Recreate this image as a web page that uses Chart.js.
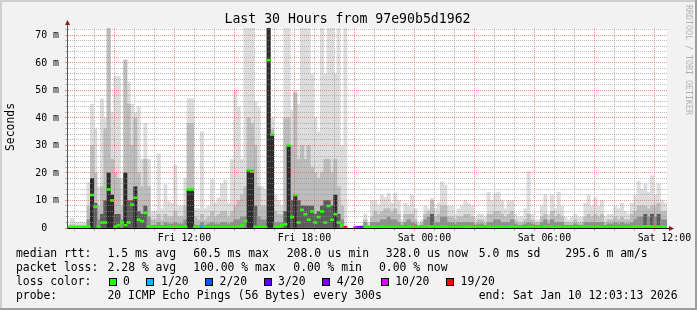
<!DOCTYPE html>
<html>
<head>
<meta charset="utf-8">
<script src="https://cdn.jsdelivr.net/npm/chart.js@4.4.1/dist/chart.umd.min.js"></script>
<style>
  html, body { margin: 0; padding: 0; background: #f2f2f2; }
  canvas { display: block; }
</style>
</head>
<body>
<canvas id="graph" width="697" height="310"></canvas>
<script>
// time axis: 10 minute bins, hours counted from Fri 00:00
const startHour = 6.13;   // Fri 06:08
const binMinutes = 10;

// smoke: top of the light (max), medium and dark layers, in ms
const hiPing = [
  1.5, 3.5, 2.2, 2.0, 2.2, 2.0, 16.5, 45, 36, 15,
  47, 40, 73, 42, 55, 55, 18, 61, 53, 45,
  42, 44, 25, 38, 25, 6, 6, 27, 7, 15.7,
  9.7, 9, 22.8, 8, 8, 18, 47, 47, 7, 7,
  35, 7, 8, 17.6, 9, 11, 16, 17.5, 9, 25,
  50, 44, 25, 73, 73, 73, 46, 44, 15, 14,
  73, 40, 12, 10, 8, 73, 73, 43, 50, 45,
  73, 73, 73, 56, 40, 35, 73, 56, 73, 73,
  56, 73, 30, 73, null, null, null, null, null, 5,
  2, 10, 10, 8.4, 12, 11, 12.6, 9, 12.6, 10,
  3, 9, 8, 12, 7, 2, 3, 8, 7, 10.8,
  7, 9, 16.8, 15.6, 8, 8, 5, 7, 8, 10,
  9, 8, 4, 5, 5, 4, 13, 10, 12.6, 13,
  10, 7, 10, 10, 5, 4, 4, 7, 20.5, 5,
  3, 3, 8, 12, 5, 12, 7, 13, 8, 4,
  3, 4, 5, 4, 4, 9, 12, 8, 11, 8,
  10, 4, 5, 5, 8, 7, 9, 6, 5, 9,
  12, 17, 14, 16, 13, 19, 12, 16, 10, 9
];
const midPing = [
  0.8, 1.2, 1, 1, 1, 1, 8, 30, 20, 8,
  15, 36, 73, 25, 20, 18, 8, 61, 45, 30,
  40, 20, 15, 25, 15, 3, 3, 5, 3, 5,
  4, 4, 6, 4, 4, 8, 38, 38, 4, 3,
  5, 3, 4, 6, 4, 5, 6, 6, 4, 6,
  8, 10, 12, 15, 40, 38, 30, 15, 8, 8,
  73, 36, 6, 5, 5, 40, 40, 30, 49, 25,
  30, 25, 30, 22, 20, 18, 20, 25, 25, 20,
  25, 15, 8, null, null, null, null, null, null, 3,
  1, 4, 6, 5, 6, 7, 7, 6, 7, 5,
  2, 5, 5, 5, 3, 1, 2, 5, 6, 10,
  4, 5, 8, 8, 4, 4, 3, 4, 4, 5,
  5, 4, 2, 3, 3, 2, 5, 5, 6, 6,
  5, 4, 5, 6, 3, 2, 2, 3, 5, 3,
  2, 2, 4, 5, 3, 6, 4, 5, 4, 2,
  2, 2, 3, 2, 2, 4, 5, 4, 5, 4,
  5, 2, 3, 3, 4, 3, 4, 3, 3, 5,
  6, 8, 8, 8, 7, 8, 8, 9, 6, 6
];
const corePing = [
  0.5, 0.5, 0.5, 0.5, 0.5, 0.5, 3, 18, 9, 3,
  5, 10, 20, 12, 5, 5, 3, 20, 10, 10,
  15, 6, 5, 8, 4, 1, 1, 2, 1, 2,
  1.5, 1.5, 2, 1.5, 1.5, 3, 14, 14, 1, 1,
  2, 1, 1.5, 2, 1.5, 1.5, 2, 2, 1.5, 2,
  3, 3, 4, 4, 21, 21, 8, 4, 3, 3,
  73, 34, 2, 2, 2, 6, 30, 10, 12, 10,
  8, 8, 8, 8, 5, 6, 8, 10, 10, 8,
  12, 5, 3, null, null, null, null, null, null, 2,
  0.5, 2, 2, 2, 3, 3, 4, 3, 3, 2,
  1, 2, 3, 2, 1.5, 0.5, 1, 3, 4, 5,
  2, 2, 4, 4, 2, 2, 1.5, 2, 2, 2,
  2, 2, 1, 1.5, 1.5, 1, 2, 2, 3, 3,
  2, 2, 2, 3, 1.5, 1, 1, 1.5, 2, 1.5,
  1, 1, 2, 3, 1.5, 3, 2, 2, 2, 1,
  1, 1, 1.5, 1, 1, 2, 2, 2, 2, 2,
  2, 1, 1.5, 1.5, 2, 1.5, 2, 1.5, 1.5, 2,
  3, 4, 4, 5, 4, 5, 4, 5, 3, 3
];
const medianRtt = [
  0.3, 0.3, 0.3, 0.3, 0.3, 0.3, 0.5, 12, 7.7, 0.5,
  2, 2, 14, 10, 0.5, 1, 2, 1, 2, 8.5,
  11, 3, 2.5, 5.5, 0.5, 0.3, 0.3, 0.3, 0.3, 0.3,
  0.3, 0.3, 0.3, 0.3, 0.3, 0.5, 14, 14, 0.3, 0.3,
  0.3, 0.3, 0.3, 0.3, 0.3, 0.3, 0.3, 0.3, 0.3, 0.3,
  0.3, 0.3, 1, 2.5, 21, 20.5, 0.4, 0.3, 0.3, 0.3,
  61, 34, 0.3, 0.3, 1, 1.3, 30, 4, 12, 2,
  6.6, 5, 3, 6, 2, 4, 6, 2, 8, 3,
  5, 2, 1, 0.3, null, null, 0.3, 0.3, 0.3, 0.5,
  0.3, 0.4, 0.3, 0.3, 0.5, 0.3, 0.3, 0.4, 0.3, 0.3,
  0.3, 0.3, 0.5, 0.3, 0.3, 0.3, 0.3, 0.4, 0.6, 0.5,
  0.3, 0.3, 0.5, 0.4, 0.3, 0.3, 0.3, 0.3, 0.3, 0.4,
  0.3, 0.3, 0.3, 0.3, 0.3, 0.3, 0.4, 0.3, 0.3, 0.5,
  0.3, 0.3, 0.4, 0.5, 0.3, 0.3, 0.3, 0.3, 0.3, 0.3,
  0.3, 0.3, 0.3, 0.6, 0.3, 0.5, 0.3, 0.3, 0.3, 0.3,
  0.3, 0.3, 0.3, 0.3, 0.3, 0.4, 0.4, 0.3, 0.3, 0.3,
  0.3, 0.3, 0.3, 0.3, 0.3, 0.3, 0.3, 0.3, 0.3, 0.4,
  0.5, 0.5, 0.4, 0.6, 0.5, 0.5, 0.4, 0.5, 0.3, 0.3
];
// [bin, lost pings out of 20]
const lossEvents = [[40, 1], [83, 19], [86, 10], [87, 4], [88, 3]];

const lossLevels = [0, 1, 2, 3, 4, 10, 19];
const lossColors = ['#26ff00', '#00b8ff', '#0059ff', '#5e00ff', '#7e00ff', '#dd00ff', '#ff0000'];
const lossLabels = ['0', '1/20', '2/20', '3/20', '4/20', '10/20', '19/20'];

const xTickHours = [12, 18, 24, 30, 36];
const xTickLabels = ['Fri 12:00', 'Fri 18:00', 'Sat 00:00', 'Sat 06:00', 'Sat 12:00'];
const yTickValues = [0, 10, 20, 30, 40, 50, 60, 70];
const yTickLabels = ['0  ', '10 m', '20 m', '30 m', '40 m', '50 m', '60 m', '70 m'];

const titleText = 'Last 30 Hours from 97e90b5d1962';
const rttStats = [['median rtt:', 16], ['1.5 ms avg', 107.5], ['60.5 ms max', 193.3], ['208.0 us min', 286.7],
                  ['328.0 us now', 385.8], ['5.0 ms sd', 478.7], ['295.6 m am/s', 565.3]];
const lossStats = [['packet loss:', 16], ['2.28 % avg', 107.6], ['100.00 % max', 193.3], ['0.00 % min', 293.3], ['0.00 % now', 379]];
const probeText = [['probe:', 16], ['20 ICMP Echo Pings (56 Bytes) every 300s', 107.5], ['end: Sat Jan 10 12:03:13 2026', 478.7]];

const MONO = '"DejaVu Sans Mono", monospace';

const binHour = i => startHour + (i + 0.5) * binMinutes / 60;

function smoke(values) {
  const pts = [];
  values.forEach((v, i) => { if (v != null) pts.push({ x: binHour(i), y: [0, v] }); });
  return pts;
}

function lossColor(n) {
  let c = lossColors[0];
  lossLevels.forEach((l, k) => { if (n >= l) c = lossColors[k]; });
  return c;
}

// denser smoke gets a darker grey, like the many overlapping pings do
function coreShade(c) {
  const v = c.raw ? c.raw.y[1] : 0;
  if (v >= 12) return '#2c2c2c';
  if (v >= 5) return '#5c5c5c';
  return '#8e8e8e';
}

const lossAt = {};
lossEvents.forEach(([i, n]) => { lossAt[i] = n; });
const medPts = [], medCols = [];
medianRtt.forEach((m, i) => {
  if (m == null) return;
  medPts.push({ x: binHour(i), y: [Math.max(0, m - 0.36), m + 0.36] });
  medCols.push(lossColor(lossAt[i] || 0));
});

const barOpts = { grouped: false, barPercentage: 1, categoryPercentage: 1, borderWidth: 0 };

// background, frame, arrows and all the rrdtool style text
const decor = {
  id: 'decor',
  beforeDraw(chart) {
    const ctx = chart.ctx, a = chart.chartArea, W = chart.width, H = chart.height;
    ctx.save();
    ctx.fillStyle = '#f2f2f2';
    ctx.fillRect(0, 0, W, H);
    ctx.fillStyle = '#cfcfcf';
    ctx.fillRect(0, 0, W, 2);
    ctx.fillRect(0, 0, 2, H);
    ctx.fillStyle = '#9e9e9e';
    ctx.fillRect(0, H - 2, W, 2);
    ctx.fillRect(W - 2, 0, 2, H);
    ctx.fillStyle = '#ffffff';
    ctx.fillRect(a.left, a.top, a.right - a.left, a.bottom - a.top);
    ctx.restore();
  },
  afterDraw(chart) {
    const ctx = chart.ctx, a = chart.chartArea;
    ctx.save();
    // axis extensions + arrows
    ctx.strokeStyle = '#555';
    ctx.lineWidth = 1;
    ctx.beginPath();
    ctx.moveTo(a.left + 0.5, a.top);
    ctx.lineTo(a.left + 0.5, a.top - 4);
    ctx.stroke();
    ctx.strokeStyle = '#000';
    ctx.beginPath();
    ctx.moveTo(a.right, a.bottom + 0.5);
    ctx.lineTo(a.right + 3, a.bottom + 0.5);
    ctx.stroke();
    ctx.fillStyle = '#801f1f';
    ctx.beginPath();
    ctx.moveTo(a.left - 2, a.top - 3);
    ctx.lineTo(a.left + 3, a.top - 3);
    ctx.lineTo(a.left + 0.5, a.top - 8);
    ctx.closePath();
    ctx.fill();
    ctx.beginPath();
    ctx.moveTo(a.right + 2, a.bottom - 2);
    ctx.lineTo(a.right + 2, a.bottom + 3);
    ctx.lineTo(a.right + 7, a.bottom + 0.5);
    ctx.closePath();
    ctx.fill();

    ctx.fillStyle = '#000';
    ctx.textBaseline = 'middle';
    ctx.textAlign = 'center';
    ctx.font = '13.2px ' + MONO;
    ctx.fillText(titleText, 347.5, 19.5);

    ctx.font = '11.4px ' + MONO;
    ctx.save();
    ctx.translate(11, 127);
    ctx.rotate(-Math.PI / 2);
    ctx.fillText('Seconds', 0, 0);
    ctx.restore();

    ctx.save();
    ctx.font = '8.3px ' + MONO;
    ctx.fillStyle = 'rgba(0,0,0,0.28)';
    ctx.translate(688.5, 60);
    ctx.rotate(Math.PI / 2);
    ctx.fillText('RRDTOOL / TOBI OETIKER', 0, 0);
    ctx.restore();

    ctx.textAlign = 'left';
    rttStats.forEach(([t, x]) => ctx.fillText(t, x, 254.5));
    lossStats.forEach(([t, x]) => ctx.fillText(t, x, 268.5));
    ctx.fillText('loss color:', 16, 282.5);
    let bx = 108.5;
    lossLabels.forEach((t, k) => {
      ctx.fillStyle = lossColors[k];
      ctx.fillRect(Math.round(bx), 278, 8, 8);
      ctx.strokeStyle = '#000';
      ctx.strokeRect(Math.round(bx) + 0.5, 278.5, 7, 7);
      ctx.fillStyle = '#000';
      ctx.fillText(t, bx + 14.6, 282.5);
      bx += 14.6 + ctx.measureText(t).width + 16.5;
    });
    probeText.forEach(([t, x]) => ctx.fillText(t, x, 296.5));
    ctx.restore();
  }
};

const hourTicks = [];
for (let h = 7; h <= 36; h++) hourTicks.push(h);
const yGridTicks = [];
for (let v = 0; v <= 72; v += 2) yGridTicks.push(v);

new Chart(document.getElementById('graph'), {
  type: 'bar',
  data: {
    datasets: [
      Object.assign({ label: 'median', data: medPts, backgroundColor: medCols, order: 0 }, barOpts),
      Object.assign({ label: 'core', data: smoke(corePing), backgroundColor: coreShade, order: 1 }, barOpts),
      Object.assign({ label: 'mid', data: smoke(midPing), backgroundColor: '#bdbdbd', order: 2 }, barOpts),
      Object.assign({ label: 'max', data: smoke(hiPing), backgroundColor: '#dddddd', order: 3 }, barOpts)
    ]
  },
  options: {
    responsive: false,
    animation: false,
    devicePixelRatio: 1,
    layout: { padding: { left: 0, right: 30, top: 28, bottom: 0 } },
    plugins: { legend: { display: false }, tooltip: { enabled: false }, title: { display: false } },
    scales: {
      x: {
        type: 'linear',
        min: startHour,
        max: startHour + 30,
        offset: false,
        afterFit(s) { s.height = 82; },
        afterBuildTicks(s) { s.ticks = hourTicks.map(v => ({ value: v })); },
        ticks: {
          autoSkip: false,
          maxRotation: 0,
          padding: 1,
          color: '#000',
          font: { family: MONO, size: 9.9 },
          callback(v) {
            const k = xTickHours.indexOf(v);
            return k >= 0 ? xTickLabels[k] : '';
          }
        },
        grid: {
          z: 1,
          tickLength: 3,
          color(c) {
            if (!c.tick) return 'transparent';
            return c.tick.value % 3 === 0 ? 'rgba(222,79,79,0.6)' : 'rgba(143,143,143,0.6)';
          }
        },
        border: { z: 2, color: '#000', width: 1, dash: [1, 1] }
      },
      y: {
        min: 0,
        max: 72.7,
        afterFit(s) { s.width = 67; },
        afterBuildTicks(s) { s.ticks = yGridTicks.map(v => ({ value: v })); },
        ticks: {
          autoSkip: false,
          padding: 6,
          color: '#000',
          font: { family: MONO, size: 9.9 },
          callback(v) {
            const k = yTickValues.indexOf(v);
            return k >= 0 ? yTickLabels[k] : '';
          }
        },
        grid: {
          z: 1,
          tickLength: 2,
          color(c) {
            if (!c.tick) return 'transparent';
            return c.tick.value % 10 === 0 ? 'rgba(222,79,79,0.6)' : 'rgba(143,143,143,0.6)';
          }
        },
        border: { z: 2, color: '#555', width: 1, dash: [1, 1] }
      }
    }
  },
  plugins: [decor]
});
</script>
</body>
</html>
